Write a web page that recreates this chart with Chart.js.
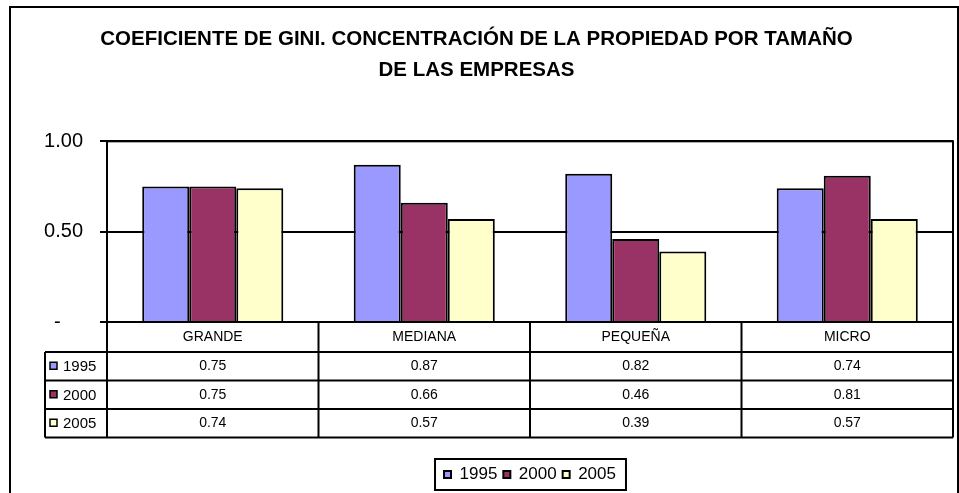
<!DOCTYPE html>
<html>
<head>
<meta charset="utf-8">
<script src="https://cdn.jsdelivr.net/npm/chart.js@4/dist/chart.umd.min.js"></script>
<style>
    body { margin: 0; background: #fff; }
    #wrap { width: 959px; height: 493px; }
</style>
</head>
<body>
<div id="wrap"><canvas id="giniChart"></canvas></div>
<script>
// Data
const categories = ["GRANDE", "MEDIANA", "PEQUEÑA", "MICRO"];
const years = ["1995", "2000", "2005"];
const values1995 = [0.75, 0.87, 0.82, 0.74];
const values2000 = [0.75, 0.66, 0.46, 0.81];
const values2005 = [0.74, 0.57, 0.39, 0.57];
const yTicks = [0, 0.5, 1];
const titleLines = [
    "COEFICIENTE DE GINI. CONCENTRACIÓN DE LA PROPIEDAD POR TAMAÑO",
    "DE LAS EMPRESAS"
];

const seriesValues = [values1995, values2000, values2005];
const seriesColors = ["#9999FF", "#993366", "#FFFFCC"];
const fontFamily = "'Liberation Sans', Arial, sans-serif";

Chart.defaults.font.family = fontFamily;
Chart.defaults.color = "#000";

// Frame, plot border, data table under the x axis and the legend box
const tablePlugin = {
    id: "dataTable",
    afterDraw(chart) {
        const { ctx, chartArea: a } = chart;
        const headerH = 30;
        const rowH = 28.5;
        const tableLeft = 45;
        const colW = a.width / categories.length;
        const headerBottom = a.bottom + headerH;
        const tableBottom = headerBottom + rowH * years.length;

        ctx.save();
        ctx.strokeStyle = "#000";

        // outer frame
        ctx.lineWidth = 2;
        ctx.strokeRect(10, 7, 948, 500);

        // plot area border
        ctx.strokeRect(a.left, a.top, a.width, a.height);

        // table lines
        ctx.beginPath();
        for (let i = 0; i <= categories.length; i++) {
            const x = a.left + i * colW;
            ctx.moveTo(x, a.bottom);
            ctx.lineTo(x, tableBottom);
        }
        ctx.moveTo(tableLeft, headerBottom);
        ctx.lineTo(tableLeft, tableBottom);
        for (let r = 0; r <= years.length; r++) {
            const y = headerBottom + r * rowH;
            ctx.moveTo(tableLeft, y);
            ctx.lineTo(a.right, y);
        }
        ctx.stroke();

        // category names
        ctx.fillStyle = "#000";
        ctx.font = "14px " + fontFamily;
        ctx.textAlign = "center";
        ctx.textBaseline = "middle";
        categories.forEach((c, i) => {
            ctx.fillText(c, a.left + (i + 0.5) * colW, a.bottom + headerH / 2);
        });

        // rows
        years.forEach((yr, r) => {
            const yMid = headerBottom + (r + 0.5) * rowH;
            ctx.fillStyle = seriesColors[r];
            ctx.fillRect(50, yMid - 4, 7, 7);
            ctx.lineWidth = 1.5;
            ctx.strokeRect(50, yMid - 4, 7, 7);
            ctx.fillStyle = "#000";
            ctx.textAlign = "left";
            ctx.font = "15px " + fontFamily;
            ctx.fillText(yr, 63, yMid + 1);
            ctx.font = "14px " + fontFamily;
            ctx.textAlign = "center";
            seriesValues[r].forEach((v, i) => {
                ctx.fillText(v.toFixed(2), a.left + (i + 0.5) * colW, yMid);
            });
        });

        // box round the legend
        const boxes = chart.legend.legendHitBoxes;
        if (boxes && boxes.length) {
            const first = boxes[0];
            const last = boxes[boxes.length - 1];
            const midY = first.top + first.height / 2;
            ctx.lineWidth = 2;
            ctx.strokeRect(first.left - 9, midY - 15.5, last.left + last.width - first.left + 19, 31);
        }
        ctx.restore();
    }
};

new Chart(document.getElementById("giniChart"), {
    type: "bar",
    data: {
        labels: categories,
        datasets: years.map((yr, i) => ({
            label: yr,
            data: seriesValues[i],
            backgroundColor: seriesColors[i],
            borderColor: "#000",
            borderWidth: 2,
            categoryPercentage: 0.667,
            barPercentage: 1
        }))
    },
    options: {
        responsive: true,
        maintainAspectRatio: false,
        animation: false,
        layout: { padding: { left: 0, right: 6, top: 0, bottom: 0 } },
        plugins: {
            title: {
                display: true,
                text: titleLines,
                font: { size: 20.5, weight: "bold", lineHeight: 1.52 },
                padding: { top: 23.5, bottom: 55.5 }
            },
            legend: {
                position: "bottom",
                fullSize: false,
                labels: {
                    boxWidth: 7,
                    boxHeight: 7,
                    padding: 6,
                    font: { size: 17 }
                }
            },
            tooltip: { enabled: false }
        },
        scales: {
            x: {
                ticks: { display: false },
                grid: { display: false },
                border: { display: false },
                afterFit: scale => { scale.height = 138; }
            },
            y: {
                min: 0,
                max: 1,
                afterFit: scale => { scale.width = 107; },
                afterBuildTicks: scale => {
                    scale.ticks = yTicks.map(v => ({ value: v }));
                },
                ticks: {
                    padding: 17,
                    font: { size: 20 },
                    callback: value => value === 0 ? "-    " : value.toFixed(2)
                },
                grid: { color: "#000", lineWidth: 2, tickLength: 7 },
                border: { color: "#000", width: 2 }
            }
        }
    },
    plugins: [tablePlugin]
});
</script>
</body>
</html>
